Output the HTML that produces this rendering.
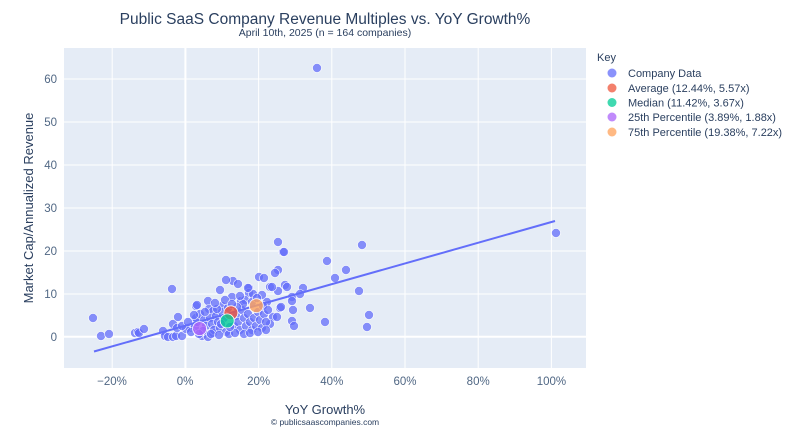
<!DOCTYPE html>
<html><head><meta charset="utf-8"><style>
body{margin:0;background:#fff;}
svg{display:block;font-family:"Liberation Sans",sans-serif;}
</style></head><body>
<svg width="800" height="432" viewBox="0 0 800 432" xmlns="http://www.w3.org/2000/svg">
<rect x="64" y="48" width="522" height="320" fill="#e5ecf6"/>
<g stroke="#fff" stroke-width="1">
<line x1="112.2" y1="48" x2="112.2" y2="368"/>
<line x1="185.4" y1="48" x2="185.4" y2="368" stroke-width="2"/>
<line x1="258.6" y1="48" x2="258.6" y2="368"/>
<line x1="331.8" y1="48" x2="331.8" y2="368"/>
<line x1="405" y1="48" x2="405" y2="368"/>
<line x1="478.2" y1="48" x2="478.2" y2="368"/>
<line x1="551.4" y1="48" x2="551.4" y2="368"/>
<line x1="64" y1="79" x2="586" y2="79"/>
<line x1="64" y1="122" x2="586" y2="122"/>
<line x1="64" y1="165" x2="586" y2="165"/>
<line x1="64" y1="208" x2="586" y2="208"/>
<line x1="64" y1="251" x2="586" y2="251"/>
<line x1="64" y1="294" x2="586" y2="294"/>
<line x1="64" y1="336.7" x2="586" y2="336.7" stroke-width="2"/>
</g>
<g font-size="11.5" fill="#506784" text-anchor="end">
<text x="57" y="83">60</text><text x="57" y="126">50</text><text x="57" y="169">40</text>
<text x="57" y="212">30</text><text x="57" y="255">20</text><text x="57" y="298">10</text><text x="57" y="341">0</text>
</g>
<g font-size="11.5" fill="#506784" text-anchor="middle">
<text x="112" y="385">−20%</text><text x="185" y="385">0%</text><text x="258.6" y="385">20%</text>
<text x="331.8" y="385">40%</text><text x="405" y="385">60%</text><text x="478.2" y="385">80%</text><text x="551.4" y="385">100%</text>
</g>
<g fill="#636efa" fill-opacity="0.75" stroke="#fff" stroke-width="0.6">
<circle cx="93" cy="318" r="4.5"/><circle cx="101" cy="336" r="4.5"/><circle cx="109" cy="334" r="4.5"/><circle cx="135" cy="333" r="4.5"/><circle cx="138" cy="332" r="4.5"/><circle cx="139" cy="333" r="4.5"/><circle cx="144" cy="329" r="4.5"/><circle cx="172" cy="289" r="4.5"/><circle cx="163" cy="331" r="4.5"/><circle cx="165" cy="336" r="4.5"/><circle cx="168" cy="337" r="4.5"/><circle cx="173" cy="337" r="4.5"/><circle cx="176" cy="336" r="4.5"/><circle cx="173" cy="324" r="4.5"/><circle cx="178" cy="317" r="4.5"/><circle cx="177" cy="328" r="4.5"/><circle cx="182" cy="336" r="4.5"/><circle cx="190" cy="328" r="4.5"/><circle cx="195" cy="327" r="4.5"/><circle cx="197" cy="322" r="4.5"/><circle cx="196" cy="306" r="4.5"/><circle cx="208" cy="301" r="4.5"/><circle cx="209" cy="309" r="4.5"/><circle cx="213" cy="311" r="4.5"/><circle cx="202" cy="336" r="4.5"/><circle cx="208" cy="337" r="4.5"/><circle cx="213" cy="333" r="4.5"/><circle cx="222" cy="306" r="4.5"/><circle cx="233" cy="281" r="4.5"/><circle cx="232" cy="297" r="4.5"/><circle cx="238" cy="284" r="4.5"/><circle cx="241" cy="301" r="4.5"/><circle cx="249" cy="288" r="4.5"/><circle cx="249" cy="293" r="4.5"/><circle cx="253" cy="294" r="4.5"/><circle cx="259" cy="277" r="4.5"/><circle cx="264" cy="278" r="4.5"/><circle cx="262" cy="295" r="4.5"/><circle cx="267" cy="302" r="4.5"/><circle cx="270" cy="287" r="4.5"/><circle cx="273" cy="317" r="4.5"/><circle cx="277" cy="317" r="4.5"/><circle cx="270" cy="324" r="4.5"/><circle cx="278" cy="242" r="4.5"/><circle cx="283" cy="252" r="4.5"/><circle cx="278" cy="270" r="4.5"/><circle cx="278" cy="291" r="4.5"/><circle cx="280" cy="308" r="4.5"/><circle cx="285" cy="285" r="4.5"/><circle cx="287" cy="287" r="4.5"/><circle cx="292" cy="297" r="4.5"/><circle cx="292" cy="301" r="4.5"/><circle cx="293" cy="310" r="4.5"/><circle cx="292" cy="321" r="4.5"/><circle cx="294" cy="326" r="4.5"/><circle cx="303" cy="288" r="4.5"/><circle cx="300" cy="294" r="4.5"/><circle cx="310" cy="308" r="4.5"/><circle cx="325" cy="322" r="4.5"/><circle cx="327" cy="261" r="4.5"/><circle cx="335" cy="278" r="4.5"/><circle cx="346" cy="270" r="4.5"/><circle cx="362" cy="245" r="4.5"/><circle cx="359" cy="291" r="4.5"/><circle cx="369" cy="315" r="4.5"/><circle cx="367" cy="327" r="4.5"/><circle cx="556" cy="233" r="4.5"/><circle cx="317" cy="68" r="4.5"/><circle cx="284" cy="252" r="4.5"/><circle cx="281" cy="307" r="4.5"/><circle cx="197" cy="305" r="4.5"/><circle cx="275" cy="273" r="4.5"/><circle cx="272" cy="287" r="4.5"/><circle cx="248" cy="288" r="4.5"/><circle cx="226" cy="280" r="4.5"/><circle cx="220" cy="290" r="4.5"/><circle cx="245" cy="300" r="4.5"/>
<circle cx="196" cy="318" r="4.5"/><circle cx="200" cy="314" r="4.5"/><circle cx="204" cy="320" r="4.5"/><circle cx="206" cy="326" r="4.5"/><circle cx="210" cy="318" r="4.5"/><circle cx="212" cy="324" r="4.5"/><circle cx="214" cy="330" r="4.5"/><circle cx="216" cy="316" r="4.5"/><circle cx="218" cy="322" r="4.5"/><circle cx="220" cy="328" r="4.5"/><circle cx="222" cy="312" r="4.5"/><circle cx="224" cy="318" r="4.5"/><circle cx="226" cy="332" r="4.5"/><circle cx="228" cy="308" r="4.5"/><circle cx="234" cy="326" r="4.5"/><circle cx="236" cy="316" r="4.5"/><circle cx="238" cy="322" r="4.5"/><circle cx="240" cy="330" r="4.5"/><circle cx="242" cy="310" r="4.5"/><circle cx="244" cy="318" r="4.5"/><circle cx="246" cy="326" r="4.5"/><circle cx="248" cy="314" r="4.5"/><circle cx="250" cy="322" r="4.5"/><circle cx="252" cy="330" r="4.5"/><circle cx="254" cy="318" r="4.5"/><circle cx="256" cy="326" r="4.5"/><circle cx="258" cy="312" r="4.5"/><circle cx="260" cy="320" r="4.5"/><circle cx="262" cy="328" r="4.5"/><circle cx="264" cy="314" r="4.5"/><circle cx="266" cy="322" r="4.5"/><circle cx="243" cy="304" r="4.5"/><circle cx="237" cy="307" r="4.5"/><circle cx="217" cy="309" r="4.5"/><circle cx="203" cy="331" r="4.5"/><circle cx="211" cy="334" r="4.5"/><circle cx="219" cy="335" r="4.5"/><circle cx="229" cy="334" r="4.5"/><circle cx="235" cy="333" r="4.5"/><circle cx="244" cy="334" r="4.5"/><circle cx="250" cy="333" r="4.5"/><circle cx="258" cy="332" r="4.5"/><circle cx="266" cy="330" r="4.5"/><circle cx="186" cy="329" r="4.5"/><circle cx="191" cy="332" r="4.5"/><circle cx="199" cy="334" r="4.5"/><circle cx="205" cy="312" r="4.5"/><circle cx="215" cy="303" r="4.5"/><circle cx="225" cy="300" r="4.5"/><circle cx="232" cy="304" r="4.5"/><circle cx="240" cy="296" r="4.5"/><circle cx="252" cy="302" r="4.5"/><circle cx="257" cy="298" r="4.5"/><circle cx="263" cy="306" r="4.5"/><circle cx="268" cy="310" r="4.5"/><circle cx="182" cy="326" r="4.5"/><circle cx="188" cy="322" r="4.5"/><circle cx="194" cy="315" r="4.5"/><circle cx="221" cy="324" r="4.5"/><circle cx="230" cy="327" r="4.5"/>
</g>
<line x1="94" y1="351.5" x2="555" y2="221" stroke="#636efa" stroke-width="2"/>
<g stroke="#fff" stroke-width="0.8" fill-opacity="0.8">
<circle cx="230.9" cy="312.8" r="7" fill="#EF553B"/>
<circle cx="227.2" cy="320.9" r="7" fill="#00cc96"/>
<circle cx="199.6" cy="328.6" r="7" fill="#ab63fa"/>
<circle cx="256.3" cy="305.7" r="7" fill="#FFA15A"/>
</g>
<text x="325" y="24" font-size="15.5" fill="#2a3f5f" text-anchor="middle">Public SaaS Company Revenue Multiples vs. YoY Growth%</text>
<text x="325" y="36" font-size="10.5" fill="#2a3f5f" text-anchor="middle">April 10th, 2025 (n = 164 companies)</text>
<text x="325" y="414" font-size="13" fill="#2a3f5f" text-anchor="middle">YoY Growth%</text>
<text x="325" y="425" font-size="8.5" fill="#2a3f5f" text-anchor="middle">© publicsaascompanies.com</text>
<text transform="translate(33,208) rotate(-90)" font-size="13" fill="#2a3f5f" text-anchor="middle">Market Cap/Annualized Revenue</text>
<g font-size="11" fill="#2a3f5f">
<text x="597" y="61">Key</text>
<circle cx="612" cy="73" r="4.5" fill="#636efa" fill-opacity="0.75"/><text x="628" y="77">Company Data</text>
<circle cx="612" cy="88" r="4.5" fill="#EF553B" fill-opacity="0.75"/><text x="628" y="92">Average (12.44%, 5.57x)</text>
<circle cx="612" cy="102.5" r="4.5" fill="#00cc96" fill-opacity="0.75"/><text x="628" y="106.5">Median (11.42%, 3.67x)</text>
<circle cx="612" cy="117" r="4.5" fill="#ab63fa" fill-opacity="0.75"/><text x="628" y="121">25th Percentile (3.89%, 1.88x)</text>
<circle cx="612" cy="132" r="4.5" fill="#FFA15A" fill-opacity="0.75"/><text x="628" y="136">75th Percentile (19.38%, 7.22x)</text>
</g>
</svg>
</body></html>
